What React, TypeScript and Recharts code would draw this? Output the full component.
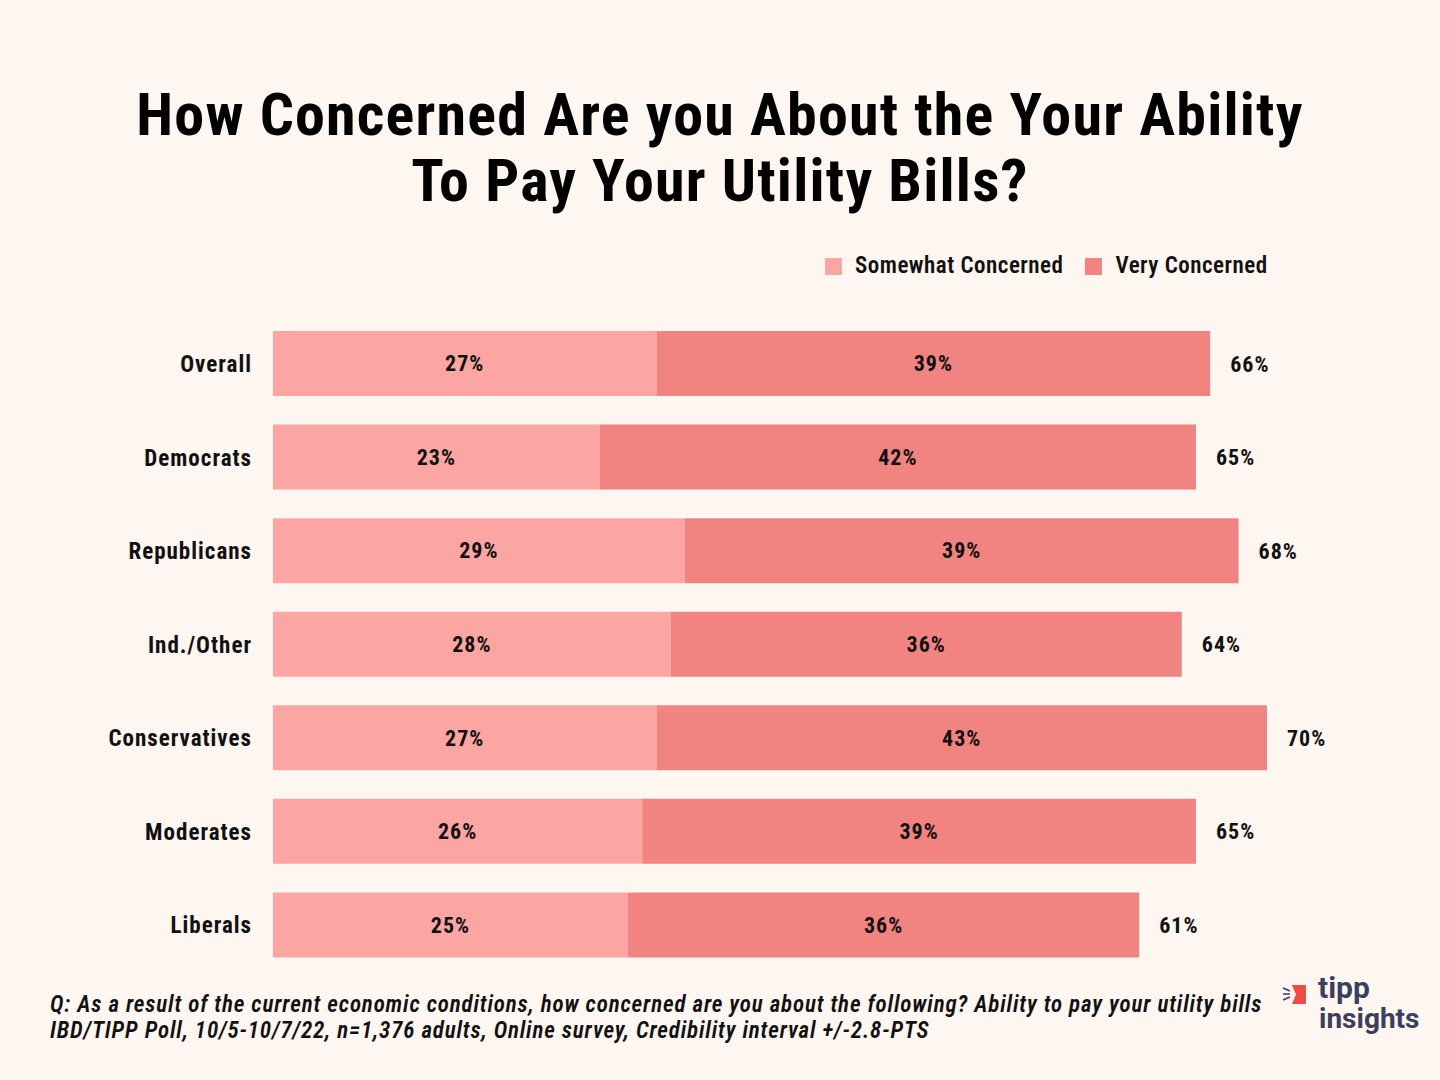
import React from "react";
import { BarChart, Bar, XAxis, YAxis, LabelList } from "recharts";

const groups = ["Overall", "Democrats", "Republicans", "Ind./Other", "Conservatives", "Moderates", "Liberals"];
const somewhat = [27, 23, 29, 28, 27, 26, 25];
const very = [39, 42, 39, 36, 43, 39, 36];
const totals = [66, 65, 68, 64, 70, 65, 61];

const data = groups.map((g, i) => ({
  group: g,
  somewhat: somewhat[i],
  very: very[i],
  total: totals[i],
}));

const FONT = "'Roboto Condensed', 'Liberation Sans Narrow', Roboto, sans-serif";
const LIGHT = "#FCA6A3";
const DARK = "#F18481";
const BG = "#FEF6F0";
const INK = "#111";

const labelStyle = { fontFamily: FONT, fontSize: 22, fontWeight: 700, fill: INK, letterSpacing: 1 };

const totalLabel = (props: any) => {
  const { x, y, width, height, index } = props;
  return (
    <text x={x + width + 20} y={y + height / 2} dy={8} style={labelStyle}>
      {totals[index]}%
    </text>
  );
};

export default function App() {
  return (
    <div style={{ position: "absolute", left: 0, top: 0, width: 1440, height: 1080, background: BG, overflow: "hidden" }}>
      <div
        style={{
          position: "absolute",
          top: 82,
          left: 0,
          width: 1440,
          textAlign: "center",
          fontFamily: FONT,
          fontSize: 60,
          fontWeight: 700,
          letterSpacing: 1.2,
          lineHeight: "66px",
          color: "#000",
        }}
      >
        How Concerned Are you About the Your Ability
        <br />
        To Pay Your Utility Bills?
      </div>
      {/* legend */}
      <div
        style={{
          position: "absolute",
          left: 825,
          top: 252,
          display: "flex",
          alignItems: "center",
          fontFamily: FONT,
          fontSize: 23,
          fontWeight: 600,
          letterSpacing: 0.5,
          lineHeight: "28px",
          color: INK,
        }}
      >
        <span style={{ width: 17, height: 17, background: LIGHT, display: "inline-block", marginRight: 13 }} />
        <span style={{ marginRight: 22 }}>Somewhat Concerned</span>
        <span style={{ width: 17, height: 17, background: DARK, display: "inline-block", marginRight: 13 }} />
        <span>Very Concerned</span>
      </div>
      <BarChart
        width={1440}
        height={1080}
        data={data}
        layout="vertical"
        margin={{ top: 317, right: 31, bottom: 108, left: 0 }}
        style={{ position: "absolute", left: 0, top: 0 }}
      >
        <XAxis type="number" domain={[0, 80]} hide />
        <YAxis
          type="category"
          dataKey="group"
          width={273}
          axisLine={false}
          tickLine={false}
          tickSize={0}
          tickMargin={21}
          tick={{ fontFamily: FONT, fontSize: 23, fontWeight: 700, fill: INK, letterSpacing: 1 }}
        />
        <Bar dataKey="somewhat" stackId="a" fill={LIGHT} barSize={65} isAnimationActive={false} name="Somewhat Concerned">
          <LabelList dataKey="somewhat" position="center" formatter={(v: any) => `${v}%`} style={labelStyle} />
        </Bar>
        <Bar dataKey="very" stackId="a" fill={DARK} barSize={65} isAnimationActive={false} name="Very Concerned">
          <LabelList dataKey="very" position="center" formatter={(v: any) => `${v}%`} style={labelStyle} />
          <LabelList dataKey="total" content={totalLabel} />
        </Bar>
      </BarChart>
      <div
        style={{
          position: "absolute",
          left: 50,
          top: 992,
          fontFamily: FONT,
          fontSize: 23,
          fontStyle: "italic",
          fontWeight: 600,
          letterSpacing: 0.85,
          lineHeight: "26px",
          color: INK,
          whiteSpace: "nowrap",
        }}
      >
        Q: As a result of the current economic conditions, how concerned are you about the following? Ability to pay your utility bills
        <br />
        IBD/TIPP Poll, 10/5-10/7/22, n=1,376 adults, Online survey, Credibility interval +/-2.8-PTS
      </div>
      <div style={{ position: "absolute", left: 1282, top: 984 }}>
        <svg width={36} height={24}>
          <line x1={1} y1={4} x2={8} y2={7} stroke="#3B3F5C" strokeWidth={1.5} />
          <line x1={1} y1={10} x2={8} y2={10} stroke="#3B3F5C" strokeWidth={1.5} />
          <line x1={1} y1={16} x2={8} y2={13} stroke="#3B3F5C" strokeWidth={1.5} />
          <polygon points="10,1 24,1 24,20 10,20 14,10.5" fill="#EE4B45" />
        </svg>
      </div>
      <div
        style={{
          position: "absolute",
          left: 1318,
          top: 976,
          fontFamily: "Roboto, sans-serif",
          fontSize: 30,
          fontWeight: 700,
          lineHeight: "24px",
          color: "#3B3F5C",
        }}
      >
        tipp
      </div>
      <div
        style={{
          position: "absolute",
          left: 1319,
          top: 1007,
          fontFamily: "Roboto, sans-serif",
          fontSize: 28,
          fontWeight: 700,
          lineHeight: "24px",
          color: "#3B3F5C",
        }}
      >
        insights
      </div>
    </div>
  );
}
